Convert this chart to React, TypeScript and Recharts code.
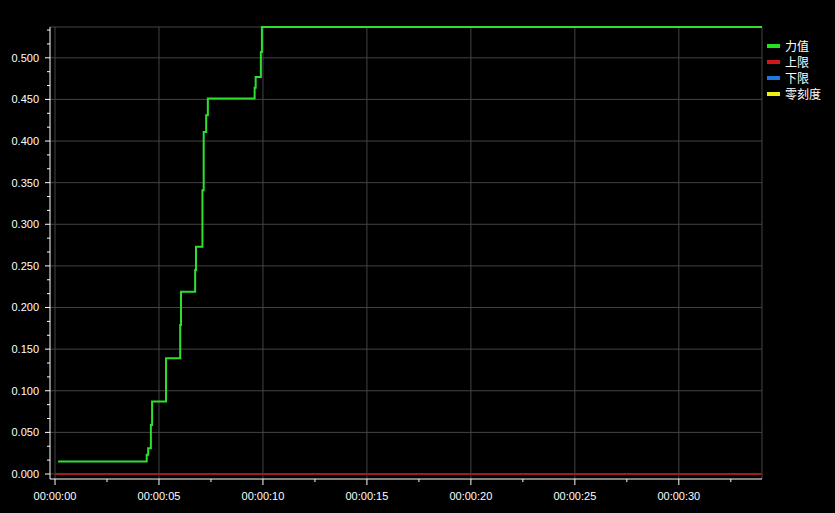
import React from 'react';
import { LineChart, Line, XAxis, YAxis, CartesianGrid, Legend } from 'recharts';

// time in seconds, force values (stepwise)
const timeSec = [0.15, 4.41, 4.48, 4.61, 4.67, 5.34, 6.02, 6.06, 6.74, 6.78, 7.09, 7.15, 7.27, 7.35, 9.6, 9.65, 9.9, 9.95, 34];
const forceValues = [0.015, 0.023, 0.031, 0.059, 0.087, 0.139, 0.179, 0.219, 0.245, 0.273, 0.341, 0.411, 0.431, 0.451, 0.464, 0.477, 0.507, 0.537, 0.537];

const limitTimes = [0, 34];
const upperLimit = [0, 0];
const lowerLimit = [0, 0];
const zeroScale = [0, 0];

const seriesNames = ['力值', '上限', '下限', '零刻度'];
const seriesColors = ['#22e222', '#d01818', '#1e78e0', '#f0f010'];

const yMajorTicks = [0, 0.05, 0.1, 0.15, 0.2, 0.25, 0.3, 0.35, 0.4, 0.45, 0.5];
const xMajorTicks = [0, 5, 10, 15, 20, 25, 30];
const xLabels = ['00:00:00', '00:00:05', '00:00:10', '00:00:15', '00:00:20', '00:00:25', '00:00:30'];
const X_MAX = 34;
const Y_MAX = 0.537;

const yAllTicks: number[] = [];
for (let k = 0; k <= 32; k++) yAllTicks.push(+(k * 0.05 / 3).toFixed(5));
const xAllTicks: number[] = [];
for (let k = 0; k <= 13; k++) xAllTicks.push(k * 2.5);

// combined table built from the arrays above
const allTimes = Array.from(new Set([...limitTimes, ...timeSec])).sort((a, b) => a - b);
const tableData = allTimes.map((t) => {
  const fi = timeSec.indexOf(t);
  const li = limitTimes.indexOf(t);
  return {
    t,
    force: fi >= 0 ? forceValues[fi] : null,
    upper: li >= 0 ? upperLimit[li] : null,
    lower: li >= 0 ? lowerLimit[li] : null,
    zero: li >= 0 ? zeroScale[li] : null,
  };
});

const FONT = '"Liberation Sans", Arial, sans-serif';

const isMajorY = (v: number) => yMajorTicks.some((m) => Math.abs(m - v) < 1e-6);
const isMajorX = (v: number) => xMajorTicks.some((m) => Math.abs(m - v) < 1e-6);

const YTick = (props: any) => {
  const { x, y, payload } = props;
  const major = isMajorY(payload.value);
  return (
    <g>
      <line x1={x} x2={x - (major ? 5 : 3)} y1={y} y2={y} stroke="#ffffff" strokeWidth={1} />
      {major && (
        <text x={x - 11} y={y} dy="0.355em" textAnchor="end" fill="#ffffff" fontSize={11} fontFamily={FONT}>
          {payload.value.toFixed(3)}
        </text>
      )}
    </g>
  );
};

const XTick = (props: any) => {
  const { x, y, payload } = props;
  const major = isMajorX(payload.value);
  const idx = xMajorTicks.findIndex((m) => Math.abs(m - payload.value) < 1e-6);
  return (
    <g>
      <line x1={x} x2={x} y1={y} y2={y + (major ? 6 : 3)} stroke="#ffffff" strokeWidth={1} />
      {major && idx >= 0 && (
        <text x={x} y={y + 17} dy="0.35em" textAnchor="middle" fill="#ffffff" fontSize={11} fontFamily={FONT}>
          {xLabels[idx]}
        </text>
      )}
    </g>
  );
};

const LegendContent = () => (
  <div style={{ fontFamily: '"Noto Sans CJK SC", sans-serif', fontSize: 12, color: '#ffffff', lineHeight: '16px', textAlign: 'left' }}>
    {seriesNames.map((n, i) => (
      <div key={n} style={{ display: 'flex', alignItems: 'center', height: 16 }}>
        <span style={{ display: 'inline-block', width: 13, height: 4, background: seriesColors[i], marginRight: 5 }} />
        <span>{n}</span>
      </div>
    ))}
  </div>
);

export default function App() {
  return (
    <div style={{ position: 'absolute', left: 0, top: 0, width: 835, height: 513, background: '#000000', overflow: 'hidden' }}>
      <LineChart width={835} height={513} data={tableData} margin={{ top: 27, right: 73, bottom: 0, left: 0 }}>
        <CartesianGrid
          stroke="#444444"
          strokeWidth={1}
          horizontalValues={[...yMajorTicks, Y_MAX]}
          verticalValues={[...xMajorTicks, X_MAX]}
        />
        <XAxis
          dataKey="t"
          type="number"
          domain={[0, X_MAX]}
          ticks={xAllTicks}
          interval={0}
          padding={{ left: 5, right: 0 }}
          height={34}
          tickSize={0}
          tickMargin={0}
          tickLine={false}
          axisLine={{ stroke: '#ffffff' }}
          tick={<XTick />}
        />
        <YAxis
          type="number"
          domain={[0, Y_MAX]}
          ticks={yAllTicks}
          interval={0}
          padding={{ top: 0, bottom: 5 }}
          width={50}
          tickSize={0}
          tickMargin={0}
          tickLine={false}
          axisLine={{ stroke: '#ffffff' }}
          tick={<YTick />}
        />
        <Legend
          layout="horizontal"
          verticalAlign="middle"
          align="center"
          content={<LegendContent />}
          wrapperStyle={{ position: 'absolute', left: 767, top: 38, width: 68, height: 64 }}
        />
        <Line dataKey="zero" name={seriesNames[3]} stroke={seriesColors[3]} strokeWidth={2} dot={false} connectNulls isAnimationActive={false} type="linear" />
        <Line dataKey="lower" name={seriesNames[2]} stroke={seriesColors[2]} strokeWidth={2} dot={false} connectNulls isAnimationActive={false} type="linear" />
        <Line dataKey="upper" name={seriesNames[1]} stroke="#a01c1c" strokeWidth={2} dot={false} connectNulls isAnimationActive={false} type="linear" />
        <Line dataKey="force" name={seriesNames[0]} stroke="#2ee02e" strokeWidth={2} dot={false} isAnimationActive={false} type="stepAfter" />
      </LineChart>
    </div>
  );
}
